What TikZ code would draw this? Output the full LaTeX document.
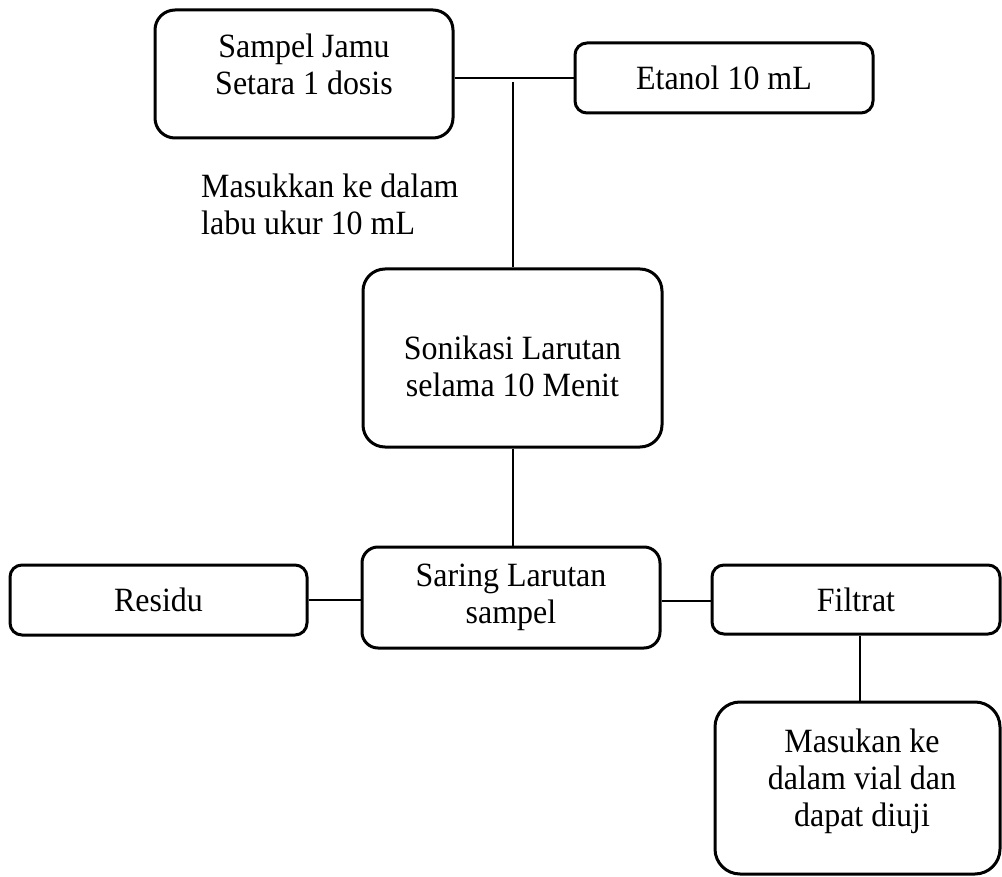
\documentclass[tikz,border=0pt]{standalone}
\usepackage{fontspec}
\setmainfont{Liberation Serif}[FakeStretch=0.94]
\begin{document}
\begin{tikzpicture}[x=1pt,y=-1pt,
  box/.style={draw=black, line width=3pt, rectangle, inner sep=0pt, align=center,
              font=\fontsize{34}{37}\selectfont},
  txt/.style={inner sep=0pt, align=center, font=\fontsize{34}{37}\selectfont},
  conn/.style={draw=black, line width=1.5pt}]
\useasboundingbox (0,0) rectangle (1002,877);
% boxes
\node[box, minimum width=298pt, minimum height=128pt, rounded corners=20pt] (b1) at (304,74) {};
\node[txt] (b1t) at (304,64) {Sampel Jamu\\Setara 1 dosis};
\node[box, minimum width=298pt, minimum height=70pt, rounded corners=12pt] (et) at (724,78) {Etanol 10 mL};
\node[box, minimum width=299pt, minimum height=178pt, rounded corners=22pt] (so) at (512.5,358) {};
\node[txt] (sot) at (512.5,366) {Sonikasi Larutan\\selama 10 Menit};
\node[box, minimum width=298pt, minimum height=101pt, rounded corners=16pt] (sa) at (511,597.5) {Saring Larutan\\sampel};
\node[box, minimum width=297pt, minimum height=70pt, rounded corners=12pt] (re) at (158.5,600) {Residu};
\node[box, minimum width=288pt, minimum height=69pt, rounded corners=12pt] (fi) at (856,599.5) {Filtrat};
\node[box, minimum width=285pt, minimum height=172pt, rounded corners=25pt] (ma) at (857.5,788) {};
\node[txt] (mat) at (862,781) {Masukan ke\\dalam vial dan\\dapat diuji};
% side text
\node[txt, align=left, anchor=west] (lbl) at (201,204) {Masukkan ke dalam\\labu ukur 10 mL};
% connectors
\coordinate (j) at (513,82);
\draw[conn] (b1.east |- et.west) -- (et.west);
\draw[conn] (j) -- (j |- so.north);
\draw[conn] (so.south -| j) -- (sa.north -| j);
\draw[conn] (re.east) -- (re.east -| sa.west);
\draw[conn] (sa.east |- 0,601) -- (fi.west |- 0,601);
\draw[conn] (fi.south -| 860,0) -- (ma.north -| 860,0);
\end{tikzpicture}
\end{document}
